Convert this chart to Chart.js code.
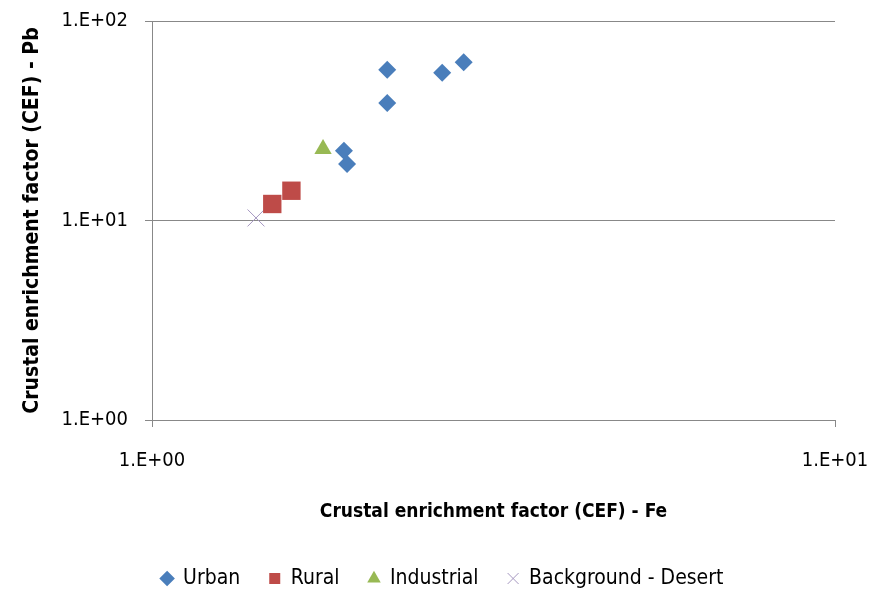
<!DOCTYPE html>
<html lang="en">
<head>
<meta charset="UTF-8" />
<title>CEF Pb vs Fe</title>
<script src="https://cdn.jsdelivr.net/npm/chart.js"></script>
<style>
  body { margin: 0; background: #fff; }
  #wrap { width: 881px; height: 590px; }
</style>
</head>
<body>
<div id="wrap"><canvas id="cefChart" width="881" height="590"></canvas></div>
<script>
  // CEF values (x = Fe, y = Pb)
  const urbanFe = [1.91, 1.93, 2.21, 2.21, 2.66, 2.86];
  const urbanPb = [22.4, 19.2, 38.8, 57.0, 55.1, 62.1];
  const ruralFe = [1.50, 1.60];
  const ruralPb = [12.1, 14.1];
  const industrialFe = [1.78];
  const industrialPb = [22.8];
  const desertFe = [1.42];
  const desertPb = [10.3];

  const seriesNames = ['Urban', 'Rural', 'Industrial', 'Background - Desert'];
  const xTicks = [1, 10];
  const yTicks = [1, 10, 100];

  const toPoints = (xs, ys) => xs.map((x, i) => ({ x: x, y: ys[i] }));
  const sci = v => '1.E+' + String(Math.round(Math.log10(v))).padStart(2, '0');
  const font = "'DejaVu Sans Condensed', 'Liberation Sans Narrow', sans-serif";

  // nudge the legend row a little to the right, like in the original
  const legendShift = {
    id: 'legendShift',
    afterLayout(chart) {
      chart.legend.left += 17;
      chart.legend.right += 17;
    }
  };

  const ctx = document.getElementById('cefChart').getContext('2d');

  new Chart(ctx, {
    type: 'scatter',
    data: {
      datasets: [
        { label: seriesNames[0], data: toPoints(urbanFe, urbanPb), pointStyle: 'rectRot', pointRadius: 9,
          backgroundColor: '#4a7ebb', borderColor: '#4a7ebb', borderWidth: 0 },
        { label: seriesNames[1], data: toPoints(ruralFe, ruralPb), pointStyle: 'rect', pointRadius: 13,
          backgroundColor: '#be4b48', borderColor: '#be4b48', borderWidth: 0 },
        { label: seriesNames[2], data: toPoints(industrialFe, industrialPb), pointStyle: 'triangle', pointRadius: 10,
          backgroundColor: '#98b954', borderColor: '#98b954', borderWidth: 0 },
        { label: seriesNames[3], data: toPoints(desertFe, desertPb), pointStyle: 'crossRot', pointRadius: 12,
          backgroundColor: '#a597c0', borderColor: '#a597c0', borderWidth: 1 }
      ]
    },
    plugins: [legendShift],
    options: {
      responsive: false,
      animation: false,
      layout: { padding: { left: 16, right: 46, top: 21, bottom: -9 } },
      plugins: {
        tooltip: { enabled: false },
        legend: {
          position: 'bottom',
          labels: {
            usePointStyle: true,
            boxWidth: 11,
            boxHeight: 11,
            padding: 29,
            color: '#000',
            font: { family: font, size: 21 }
          }
        }
      },
      scales: {
        x: {
          type: 'logarithmic',
          min: 1,
          max: 10,
          afterBuildTicks: s => { s.ticks = xTicks.map(v => ({ value: v })); },
          afterFit: s => { s.height = 119; s.paddingLeft = 0; s.paddingRight = 0; },
          border: { color: '#888', width: 1 },
          grid: { drawOnChartArea: false, drawTicks: true, tickLength: 7, color: '#888' },
          ticks: {
            color: '#000', padding: 22, maxRotation: 0,
            font: { family: font, size: 20 },
            callback: v => sci(v)
          },
          title: {
            display: true,
            text: 'Crustal enrichment factor (CEF) - Fe',
            color: '#000',
            padding: { top: 28, bottom: 16 },
            font: { family: font, size: 19, weight: 'bold' }
          }
        },
        y: {
          type: 'logarithmic',
          min: 1,
          max: 100,
          afterBuildTicks: s => { s.ticks = yTicks.map(v => ({ value: v })); },
          afterFit: s => { s.width = 136; s.paddingTop = 0; s.paddingBottom = 0; },
          border: { color: '#888', width: 1 },
          grid: { color: '#888', tickLength: 7, drawTicks: true },
          ticks: {
            color: '#000', padding: 17,
            font: { family: font, size: 20 },
            callback: v => sci(v)
          },
          title: {
            display: true,
            text: 'Crustal enrichment factor (CEF) - Pb',
            color: '#000',
            padding: { bottom: 12 },
            font: { family: font, size: 21, weight: 'bold' }
          }
        }
      }
    }
  });
</script>
</body>
</html>
